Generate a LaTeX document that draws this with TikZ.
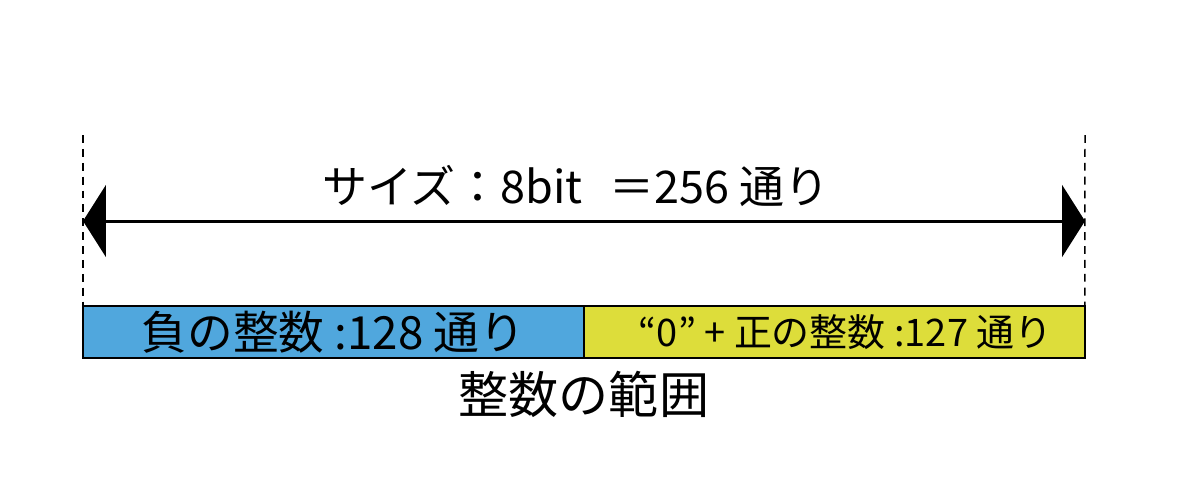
\documentclass[tikz,border=0pt]{standalone}
\usepackage{fontspec}
\setmainfont{Noto Sans CJK JP}
\usepackage{tikz}
\usetikzlibrary{positioning, arrows.meta}
\definecolor{negblue}{RGB}{80,167,221}
\definecolor{posyellow}{RGB}{221,221,58}

\begin{document}
\begin{tikzpicture}[x=0.02cm, y=-0.02cm,
    <->/.style={{Triangle[length=0.46cm, width=1.44cm]}-{Triangle[length=0.46cm, width=1.44cm]}, line width=1.7pt},
    part/.style={draw, line width=1.1pt, minimum width=10.02cm, minimum height=1.04cm,
      inner sep=0pt, outer sep=0pt},
    guide/.style={line width=0.85pt, dash pattern=on 4.5pt off 3.4pt}]
        \useasboundingbox (0,0) rectangle (1200,485);
        \node [part, fill=negblue, anchor=north west, font=\fontsize{26}{30}\selectfont]
        (neg) at (83,306) {負の整数 :128 通り};
        \node [part, fill=posyellow, right=0pt of neg, font=\fontsize{21.6}{26}\selectfont]
        (pos) {\hspace{0.6em}“0” + 正の整数 :127 通り};
        \node [below=0.14cm of pos.south west, font=\fontsize{28.5}{32}\selectfont]
        (range) {整数の範囲};
        \coordinate (ltop) at (83,135);
        \coordinate (rtop) at (1085,135);
        \draw[guide] (ltop) -- (neg.north west);
        \draw[guide] (rtop) -- (pos.north east);
        \coordinate (lend) at (83,221);
        \coordinate (rend) at (1085,221);
        \draw[<->] (lend) -- (rend);
        \node [font=\fontsize{25.6}{30}\selectfont, anchor=base] (size) at (576,203)
        {サイズ：8bit\hspace{0.6em}＝256 通り};
      \end{tikzpicture}
\end{document}
